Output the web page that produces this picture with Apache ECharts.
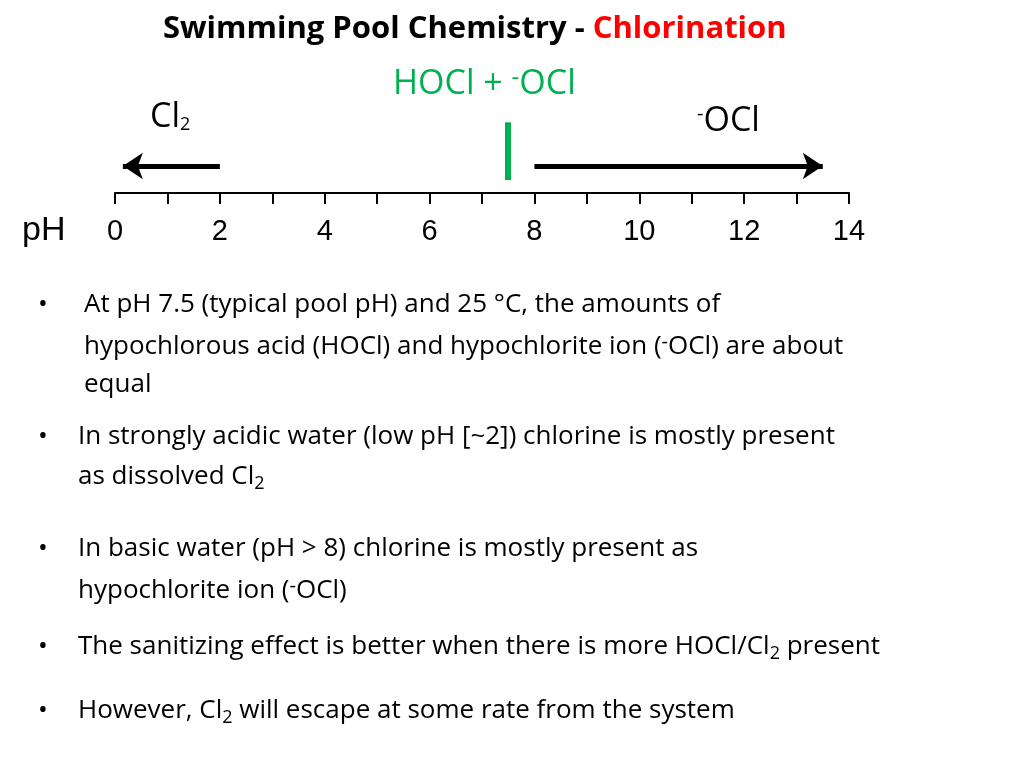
<!DOCTYPE html>
<html><head><meta charset="utf-8">
<script src="https://cdn.jsdelivr.net/npm/echarts@6/dist/echarts.min.js"></script>
<style>html,body{margin:0;background:#fff}#c{width:1024px;height:768px}</style>
</head><body><div id="c"></div>
<script>
var phMin = 0, phMax = 14;
var phTicks = [0, 2, 4, 6, 8, 10, 12, 14];
var cl2Arrow = [[2, 0.29], [0.15, 0.29]];
var oclArrow = [[8, 0.29], [13.5, 0.29]];
var typicalPH = [[7.5, 0.14], [7.5, 0.76]];

var chart = echarts.init(document.getElementById('c'));
var F = '"Open Sans", Lato, sans-serif';
var sub = { sub: { fontSize: 18, verticalAlign: 'bottom', padding: [14, 0, 0, 0], fontFamily: F, fill: '#000' },
            sup: { fontSize: 20, verticalAlign: 'top', padding: [0, 0, 10, 0], fontFamily: F } };
function t(x, y, txt, size, extra) {
  return Object.assign({ type: 'text', left: x, top: y,
    style: Object.assign({ text: txt, font: size + 'px ' + F, fill: '#000', rich: sub }, extra || {}) });
}
function arrow(pts, color, width, sym) {
  return { type: 'lines', coordinateSystem: 'cartesian2d', polyline: false,
    symbol: sym, symbolSize: 20, data: [{ coords: pts }],
    lineStyle: { color: color, width: width, opacity: 1 } };
}
chart.setOption({
  animation: false,
  grid: { left: 115, right: 175, top: 100, bottom: 575 },
  xAxis: { type: 'value', min: phMin, max: phMax, interval: 1,
    axisLine: { lineStyle: { color: '#000', width: 2 } },
    axisTick: { length: 11, lineStyle: { color: '#000', width: 2 } },
    axisLabel: { color: '#000', fontSize: 29, fontFamily: 'Liberation Sans', margin: 24,
      formatter: function (v) { return phTicks.indexOf(v) >= 0 ? v : ''; } },
    splitLine: { show: false } },
  yAxis: { type: 'value', min: 0, max: 1, show: false },
  series: [
    arrow(cl2Arrow, '#000', 5, ['none', 'arrow']),
    arrow(oclArrow, '#000', 5, ['none', 'arrow']),
    arrow(typicalPH, '#00b050', 6, ['none', 'none'])
  ],
  graphic: [
    t(163, 14, '{b|Swimming Pool Chemistry - }{r|Chlorination}', 32,
      { rich: { b: { font: 'bold 31px ' + F, fill: '#000' }, r: { font: 'bold 31px ' + F, fill: '#ff0000' } } }),
    t(393, 66, 'HOCl + {s|-}OCl', 34, { fill: '#00b050',
      rich: { s: { fontSize: 24, verticalAlign: 'top', padding: [0, 0, 12, 0], fill: '#00b050', fontFamily: F } } }),
    t(150, 100, 'Cl{sub|2}', 34),
    t(697, 104, '{sup|-}OCl', 34),
    t(22, 214, 'pH', 34, { font: '34px Liberation Sans' }),
    t(38, 292, '•', 26), t(84, 292, 'At pH 7.5 (typical pool pH) and 25 °C, the amounts of', 26),
    t(84, 332, 'hypochlorous acid (HOCl) and hypochlorite ion ({sup|-}OCl) are about', 26),
    t(84, 372, 'equal', 26),
    t(38, 424, '•', 26), t(78, 424, 'In strongly acidic water (low pH [~2]) chlorine is mostly present', 26),
    t(78, 464, 'as dissolved Cl{sub|2}', 26),
    t(38, 536, '•', 26), t(78, 536, 'In basic water (pH > 8) chlorine is mostly present as', 26),
    t(78, 576, 'hypochlorite ion ({sup|-}OCl)', 26),
    t(38, 634, '•', 26), t(78, 634, 'The sanitizing effect is better when there is more HOCl/Cl{sub|2} present', 26),
    t(38, 698, '•', 26), t(78, 698, 'However, Cl{sub|2} will escape at some rate from the system', 26)
  ]
});
</script></body></html>
